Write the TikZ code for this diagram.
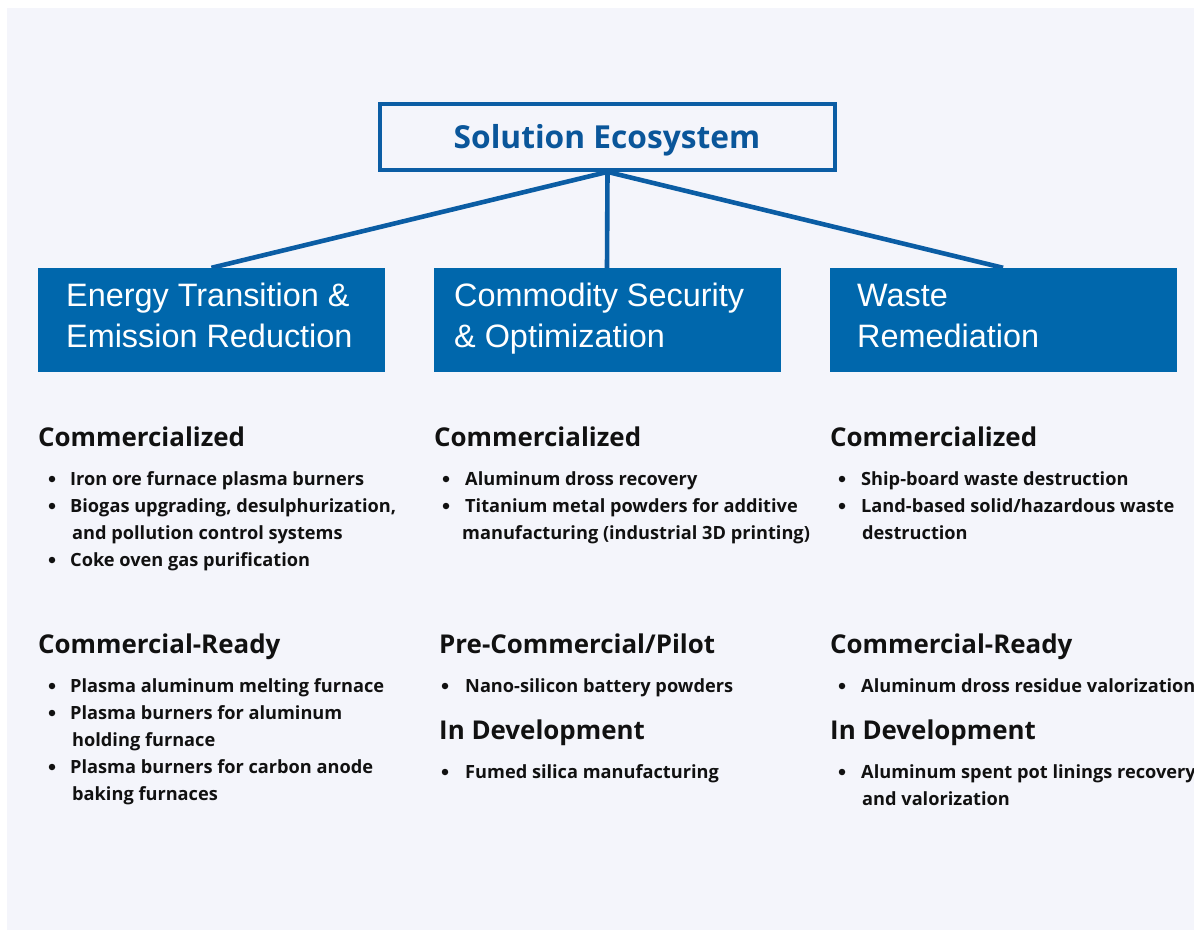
\documentclass[tikz,border=0pt]{standalone}
\usepackage{fontspec}
\setmainfont{Open Sans}
\newfontfamily\catfont{Liberation Sans}
\pgfdeclarelayer{bottom}
\pgfdeclarelayer{links}
\pgfsetlayers{bottom,links,main}
\definecolor{bg}{HTML}{F4F5FB}
\definecolor{boxblue}{HTML}{0067AC}
\definecolor{lineblue}{HTML}{0B5DA4}
\definecolor{titleblue}{HTML}{0A569A}
\definecolor{txt}{HTML}{111111}
\begin{document}
\begin{tikzpicture}[x=1pt,y=-1pt,
  cattext/.style={font=\catfont\fontsize{32.4}{38}\selectfont, text=white, anchor=base west, inner sep=0},
  head/.style={font=\bfseries\fontsize{25.9}{30}\selectfont, text=txt, anchor=base west, inner sep=0},
  item/.style={font=\bfseries\fontsize{18.2}{22}\selectfont, text=txt, anchor=base west, inner sep=0},
  dot/.style={circle, fill=txt, inner sep=0, minimum size=6.5pt},
  catbox/.style={fill=boxblue, inner sep=0, minimum width=347pt, minimum height=104pt},
  link/.style={draw=lineblue, line width=4.6pt}]
\begin{pgfonlayer}{bottom}
\fill[white] (0,0) rectangle (1194,930);
\fill[bg] (7,8) rectangle (1194,930);
\end{pgfonlayer}
\useasboundingbox (0,0) rectangle (1194,930);

% title
\node[draw=lineblue, line width=3.8pt, minimum width=455pt, minimum height=66pt, inner sep=0] (title) at (607.5,137) {};
\node[anchor=base, inner sep=0, font=\bfseries\fontsize{31.7}{38}\selectfont, text=titleblue] (titletext) at (607,148) {Solution Ecosystem};

% category boxes
\node[catbox] (c1) at (211.5,320) {};
\node[catbox] (c2) at (607,320) {};
\node[catbox] (c3) at (1003,320) {};

\begin{pgfonlayer}{links}
\draw[link] (title.south) -- (c1.north);
\draw[link] (title.south) -- (c2.north);
\draw[link] (title.south) -- (c3.north);
\end{pgfonlayer}

\node[cattext] (t11) at (66,306) {Energy Transition \&};
\node[cattext] (t12) at (66,347) {Emission Reduction};
\node[cattext] (t21) at (454,306) {Commodity Security};
\node[cattext] (t22) at (454,347) {\& Optimization};
\node[cattext] (t31) at (857,306) {Waste};
\node[cattext] (t32) at (857,347) {Remediation};

% column 1
\node[head] (h11) at (38,446) {Commercialized};
\node[dot] (d111) at (52,479) {}; \node[item] (i111) at (70,485) {Iron ore furnace plasma burners};
\node[dot] (d112) at (52,506) {}; \node[item] (i112) at (70,512) {Biogas upgrading, desulphurization,};
\node[item] (i112b) at (72,539) {and pollution control systems};
\node[dot] (d113) at (52,560) {}; \node[item] (i113) at (70,566) {Coke oven gas purification};

\node[head] (h12) at (38,653) {Commercial-Ready};
\node[dot] (d121) at (52,686) {}; \node[item] (i121) at (70,692) {Plasma aluminum melting furnace};
\node[dot] (d122) at (52,713) {}; \node[item] (i122) at (70,719) {Plasma burners for aluminum};
\node[item] (i122b) at (72,746) {holding furnace};
\node[dot] (d123) at (52,767) {}; \node[item] (i123) at (70,773) {Plasma burners for carbon anode};
\node[item] (i123b) at (72,800) {baking furnaces};

% column 2
\node[head] (h21) at (434,446) {Commercialized};
\node[dot] (d211) at (446,479) {}; \node[item] (i211) at (465,485) {Aluminum dross recovery};
\node[dot] (d212) at (446,506) {}; \node[item] (i212) at (465,512) {Titanium metal powders for additive};
\node[item] (i212b) at (462,539) {manufacturing (industrial 3D printing)};

\node[head] (h22) at (439,653) {Pre-Commercial/Pilot};
\node[dot] (d221) at (445,686) {}; \node[item] (i221) at (465,692) {Nano-silicon battery powders};
\node[head] (h23) at (439,739) {In Development};
\node[dot] (d231) at (445,772) {}; \node[item] (i231) at (465,778) {Fumed silica manufacturing};

% column 3
\node[head] (h31) at (830,446) {Commercialized};
\node[dot] (d311) at (842,479) {}; \node[item] (i311) at (861,485) {Ship-board waste destruction};
\node[dot] (d312) at (842,506) {}; \node[item] (i312) at (861,512) {Land-based solid/hazardous waste};
\node[item] (i312b) at (862,539) {destruction};

\node[head] (h32) at (830,653) {Commercial-Ready};
\node[dot] (d321) at (842,686) {}; \node[item] (i321) at (861,692) {Aluminum dross residue valorization};
\node[head] (h33) at (830,739) {In Development};
\node[dot] (d331) at (842,772) {}; \node[item] (i331) at (861,778) {Aluminum spent pot linings recovery};
\node[item] (i331b) at (862,805) {and valorization};
\end{tikzpicture}
\end{document}
